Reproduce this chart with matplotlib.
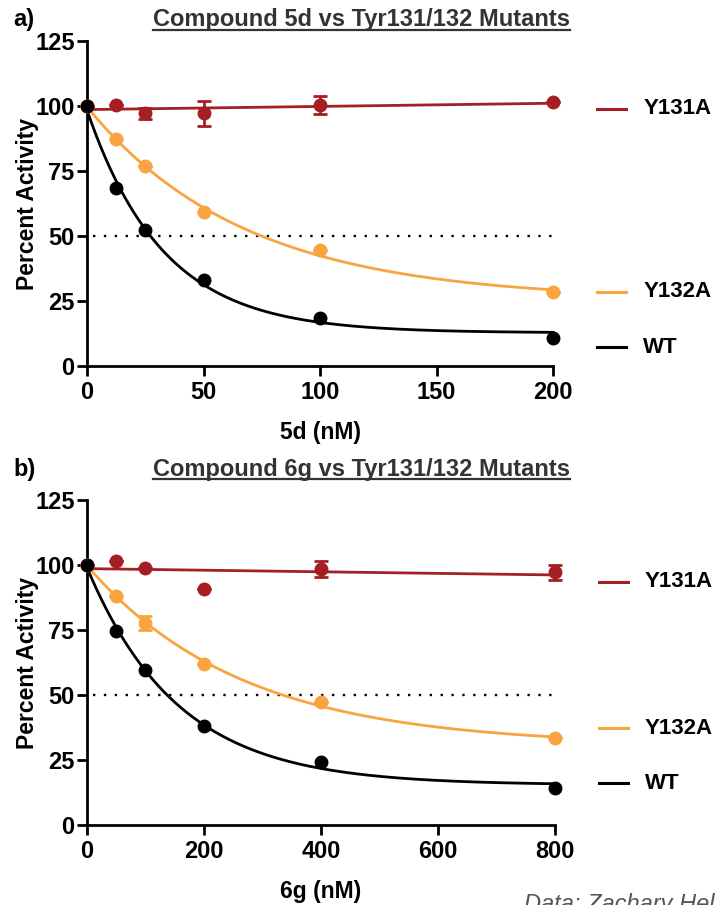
import numpy as np
import matplotlib
matplotlib.use("Agg")
import matplotlib.pyplot as plt

plt.rcParams["font.family"] = ["Liberation Sans", "DejaVu Sans"]
plt.rcParams["font.weight"] = "bold"

# data
dose_5d = [0, 12.5, 25, 50, 100, 200]
y131a_5d = [100, 100.4, 97.2, 97.2, 100.3, 101.5]
y131a_5d_err = [0, 0, 2.2, 4.7, 3.5, 0]
y132a_5d = [100, 87.2, 76.9, 59.1, 44.5, 28.5]
y132a_5d_err = [0, 0, 0, 0, 0, 0]
wt_5d = [100, 68.3, 52.5, 33.0, 18.5, 10.9]

dose_6g = [0, 50, 100, 200, 400, 800]
y131a_6g = [100, 101.7, 98.9, 90.8, 98.5, 97.2]
y131a_6g_err = [0, 0, 0, 0, 3.0, 3.0]
y132a_6g = [100, 88.1, 77.8, 61.9, 47.2, 33.3]
y132a_6g_err = [0, 0, 2.7, 0, 0, 0]
wt_6g = [100, 74.6, 59.5, 38.0, 24.4, 14.1]

series_names = ["Y131A", "Y132A", "WT"]
colors = ["#A51E24", "#F9A43F", "black"]

panels = [
    dict(tag="a)", title="Compound 5d vs Tyr131/132 Mutants", xlabel="5d (nM)",
         x=dose_5d, xmax=200, xticks=[0, 50, 100, 150, 200],
         ys=[y131a_5d, y132a_5d, wt_5d], errs=[y131a_5d_err, y132a_5d_err, None],
         leg_y=[0.791, 0.228, 0.058]),
    dict(tag="b)", title="Compound 6g vs Tyr131/132 Mutants", xlabel="6g (nM)",
         x=dose_6g, xmax=800, xticks=[0, 200, 400, 600, 800],
         ys=[y131a_6g, y132a_6g, wt_6g], errs=[y131a_6g_err, y132a_6g_err, None],
         leg_y=[0.748, 0.298, 0.129]),
]


def fit_decay(x, y):
    # one-phase decay, Y0/plateau by least squares, K by grid search
    x = np.asarray(x, float)
    y = np.asarray(y, float)
    best = None
    for k in np.linspace(0.0005, 0.2, 4000):
        e = np.exp(-k * x)
        A = np.column_stack([e, 1 - e])
        coef, *_ = np.linalg.lstsq(A, y, rcond=None)
        sse = np.sum((A @ coef - y) ** 2)
        if best is None or sse < best[0]:
            best = (sse, k, coef)
    _, k, (y0, plateau) = best
    return lambda t: plateau + (y0 - plateau) * np.exp(-k * t)


fig = plt.figure(figsize=(7.15, 9.05), dpi=100)
axes_pos = [[0.1217, 0.5956, 0.652, 0.359], [0.1217, 0.0884, 0.654, 0.359]]
tag_y = [0.978, 0.481]

for p, pos, ty in zip(panels, axes_pos, tag_y):
    ax = fig.add_axes(pos)
    x = np.asarray(p["x"], float)
    xs = np.linspace(0, p["xmax"], 400)

    ax.plot([0.012 * p["xmax"], p["xmax"]], [50, 50], ls=(0, (1, 3.6)), color="black", lw=1.7)

    for i, (name, col) in enumerate(zip(series_names, colors)):
        y = np.asarray(p["ys"][i], float)
        if name == "Y131A":
            m, b = np.polyfit(x, y, 1)
            ax.plot(xs, m * xs + b, color=col, lw=2, zorder=3, clip_on=False)
        else:
            f = fit_decay(x, y)
            ax.plot(xs, f(xs), color=col, lw=2, zorder=3, clip_on=False)
        err = p["errs"][i]
        if err is not None:
            ax.errorbar(x, y, yerr=err, fmt="none", ecolor=col, elinewidth=2,
                        capsize=5, capthick=2, zorder=4, clip_on=False)
        order = 6 if name == "WT" else 5
        ax.plot(x, y, "o", color=col, ms=9, zorder=order, clip_on=False)

        ly = p["leg_y"][i]
        ax.plot([1.094, 1.157], [ly, ly], color=col, lw=2.2, transform=ax.transAxes, clip_on=False)
        ax.text(1.193, ly, name, transform=ax.transAxes, fontsize=16, fontweight="bold",
                va="center", ha="left")

    ax.set_xlim(0, p["xmax"])
    ax.set_ylim(0, 125)
    ax.set_xticks(p["xticks"])
    ax.set_yticks([0, 25, 50, 75, 100, 125])
    for s in ["top", "right"]:
        ax.spines[s].set_visible(False)
    for s in ["left", "bottom"]:
        ax.spines[s].set_linewidth(2)
    ax.tick_params(direction="out", length=7, width=2, labelsize=17)
    ax.tick_params(axis="x", pad=4)
    ax.tick_params(axis="y", pad=2)
    for lbl in ax.get_xticklabels() + ax.get_yticklabels():
        lbl.set_fontweight("bold")
    ax.set_ylabel("Percent Activity", fontsize=16.5, fontweight="bold", labelpad=-3)
    ax.set_xlabel(p["xlabel"], fontsize=16.5, fontweight="bold", labelpad=12)

    fig.text(0.019, ty, p["tag"], fontsize=17, fontweight="bold", va="center", ha="left")
    t = fig.text(0.506, ty, p["title"], fontsize=17, fontweight="bold", va="center",
                 ha="center", color="#333333")
    fig.canvas.draw()
    bb = t.get_window_extent(fig.canvas.get_renderer()).transformed(fig.transFigure.inverted())
    fig.add_artist(plt.Line2D([bb.x0, bb.x1], [bb.y0 + 0.002, bb.y0 + 0.002],
                              transform=fig.transFigure, color="#333333", lw=1.6))

fig.text(0.733, 0.013, "Data: Zachary Hel", fontsize=17, style="italic",
         fontweight="normal", color="#555555", va="top", ha="left")

fig.savefig("out.png", dpi=100)
